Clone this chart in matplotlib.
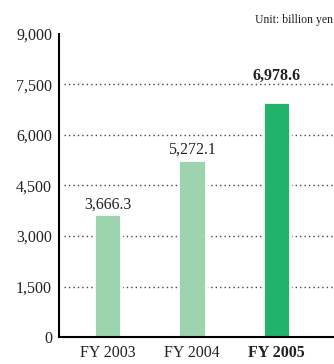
import matplotlib
matplotlib.use('Agg')
import matplotlib.pyplot as plt

# data
years = ['FY 2003', 'FY 2004', 'FY 2005']
values = [3666.3, 5272.1, 6978.6]
value_labels = ['3,666.3', '5,272.1', '6,978.6']
yticks = [0, 1500, 3000, 4500, 6000, 7500, 9000]
ytick_labels = ['0', '1,500', '3,000', '4,500', '6,000', '7,500', '9,000']

light = '#9dd3ae'
dark = '#22b36a'
colors = [light, light, dark]

plt.rcParams['font.family'] = ['Liberation Serif', 'DejaVu Serif']

fig = plt.figure(figsize=(3.34, 3.64), dpi=100)
ax = fig.add_axes([59 / 334, 27 / 364, 1 - 59 / 334, 303 / 364])

x = list(range(len(years)))
# dotted gridlines behind the bars
for v in yticks[1:-1]:
    ax.plot([-0.52, 2.68], [v, v], color='#444444', lw=1.0,
            linestyle=(0, (1, 2.2)), zorder=1)
ax.bar(x, values, width=0.33, color=colors, edgecolor='white', linewidth=2.0, zorder=2)

for i, (v, lab) in enumerate(zip(values, value_labels)):
    bold = i == len(values) - 1
    ypos = 7634 if bold else v + 160
    ax.text(i, ypos, lab, ha='center', va='baseline', fontsize=11.5,
            fontweight='bold' if bold else 'normal', color='#222222')

ax.set_xlim(-0.574, 2.68)
ax.set_ylim(0, 9000)
ax.set_yticks(yticks)
ax.set_yticklabels(ytick_labels, fontsize=11.5, color='#222222')
ax.set_xticks(x)
ax.set_xticklabels(years, fontsize=11.5, color='#222222')
ax.get_xticklabels()[-1].set_fontweight('bold')
ax.tick_params(length=0)
ax.tick_params(axis='y', pad=5)
ax.tick_params(axis='x', pad=6)
for s in ['top', 'right']:
    ax.spines[s].set_visible(False)
ax.spines['left'].set_linewidth(1.5)
ax.spines['bottom'].set_linewidth(1.5)

fig.text(0.997, 0.945, 'Unit: billion yen', ha='right', va='center',
         fontsize=8.5, color='#222222')

fig.savefig('out.png', dpi=100)
